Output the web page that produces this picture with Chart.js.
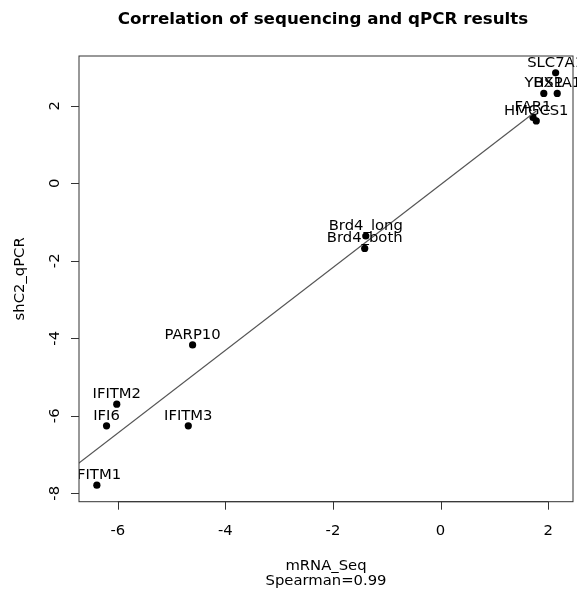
<!DOCTYPE html>
<html>
<head>
<meta charset="utf-8">
<script src="https://cdn.jsdelivr.net/npm/chart.js@4"></script>
<style>
  html, body { margin: 0; padding: 0; background: #fff; }
  #wrap { width: 577px; height: 589px; }
</style>
</head>
<body>
<div id="wrap"><canvas id="corrChart" width="577" height="589"></canvas></div>
<script>
// genes and their log fold changes (sequencing vs qPCR)
const genes = ['IFITM1', 'IFI6', 'IFITM2', 'IFITM3', 'PARP10', 'Brd4_long', 'Brd4_both', 'FAR1', 'HMGCS1', 'YBX1', 'HSPA1', 'SLC7A1'];
const mrnaSeq = [-6.39, -6.21, -6.02, -4.69, -4.61, -1.39, -1.41, 1.72, 1.78, 1.92, 2.17, 2.14];
const qpcr = [-7.79, -6.26, -5.70, -6.26, -4.17, -1.36, -1.68, 1.70, 1.61, 2.32, 2.32, 2.85];

const xTicks = [-6, -4, -2, 0, 2];
const yTicks = [-8, -6, -4, -2, 0, 2];

// linear fit drawn across the plot
const fitSlope = 1.068;
const fitIntercept = -0.037;
const fitRange = [-7, 1.78];

const FONT = '"DejaVu Sans", sans-serif';

const points = genes.map((g, i) => ({ x: mrnaSeq[i], y: qpcr[i] }));
const fitLine = fitRange.map(x => ({ x: x, y: fitSlope * x + fitIntercept }));

// R-style frame, axes, labels
const basePlot = {
  id: 'basePlot',
  afterDraw(chart) {
    const ctx = chart.ctx;
    const a = chart.chartArea;
    const xs = chart.scales.x, ys = chart.scales.y;
    ctx.save();

    // gene labels above points, clipped on the left at the frame
    ctx.save();
    ctx.beginPath();
    ctx.rect(a.left, a.top, chart.width - a.left, a.bottom - a.top);
    ctx.clip();
    ctx.fillStyle = '#000';
    ctx.font = '14.8px ' + FONT;
    ctx.textAlign = 'center';
    ctx.textBaseline = 'alphabetic';
    genes.forEach((g, i) => {
      ctx.fillText(g, xs.getPixelForValue(mrnaSeq[i]), ys.getPixelForValue(qpcr[i]) - 6);
    });
    ctx.restore();

    ctx.strokeStyle = '#333';
    ctx.lineWidth = 1;
    ctx.strokeRect(a.left, a.top, a.right - a.left, a.bottom - a.top);

    // x axis
    ctx.beginPath();
    const x0 = xs.getPixelForValue(xTicks[0]), x1 = xs.getPixelForValue(xTicks[xTicks.length - 1]);
    ctx.moveTo(x0, a.bottom); ctx.lineTo(x1, a.bottom);
    xTicks.forEach(t => {
      const px = Math.round(xs.getPixelForValue(t)) + 0.5;
      ctx.moveTo(px, a.bottom); ctx.lineTo(px, a.bottom + 8);
    });
    ctx.stroke();
    ctx.fillStyle = '#000';
    ctx.font = '14.8px ' + FONT;
    ctx.textAlign = 'center';
    ctx.textBaseline = 'middle';
    xTicks.forEach(t => ctx.fillText(String(t), xs.getPixelForValue(t), 531));

    // y axis
    ctx.beginPath();
    yTicks.forEach(t => {
      const py = Math.round(ys.getPixelForValue(t)) + 0.5;
      ctx.moveTo(a.left - 8, py); ctx.lineTo(a.left, py);
    });
    ctx.stroke();
    yTicks.forEach(t => {
      ctx.save();
      ctx.translate(55, ys.getPixelForValue(t));
      ctx.rotate(-Math.PI / 2);
      ctx.fillText(String(t), 0, 0);
      ctx.restore();
    });

    // axis titles
    const cx = (a.left + a.right) / 2;
    ctx.fillText('mRNA_Seq', cx, 566);
    ctx.fillText('Spearman=0.99', cx, 581);
    ctx.save();
    ctx.translate(20, (a.top + a.bottom) / 2);
    ctx.rotate(-Math.PI / 2);
    ctx.fillText('shC2_qPCR', 0, 0);
    ctx.restore();

    // main title
    ctx.font = 'bold 16.7px ' + FONT;
    ctx.fillText('Correlation of sequencing and qPCR results', 323, 20);

    ctx.restore();
  }
};

const ctx = document.getElementById('corrChart').getContext('2d');
const corrChart = new Chart(ctx, {
  type: 'scatter',
  data: {
    datasets: [{
      label: 'fit',
      type: 'line',
      data: fitLine,
      borderColor: '#555',
      borderWidth: 1.2,
      pointRadius: 0,
      fill: false,
      tension: 0
    }, {
      label: 'genes',
      data: points,
      backgroundColor: '#000',
      borderWidth: 0,
      pointRadius: 3.6
    }]
  },
  plugins: [basePlot],
  options: {
    responsive: false,
    animation: false,
    layout: {
      padding: { left: 79, right: 2, top: 56, bottom: 87.3 }
    },
    plugins: {
      legend: { display: false },
      tooltip: { enabled: false }
    },
    scales: {
      x: { type: 'linear', min: -6.722, max: 2.463, display: false },
      y: { type: 'linear', min: -8.217, max: 3.285, display: false }
    }
  }
});
</script>
</body>
</html>
